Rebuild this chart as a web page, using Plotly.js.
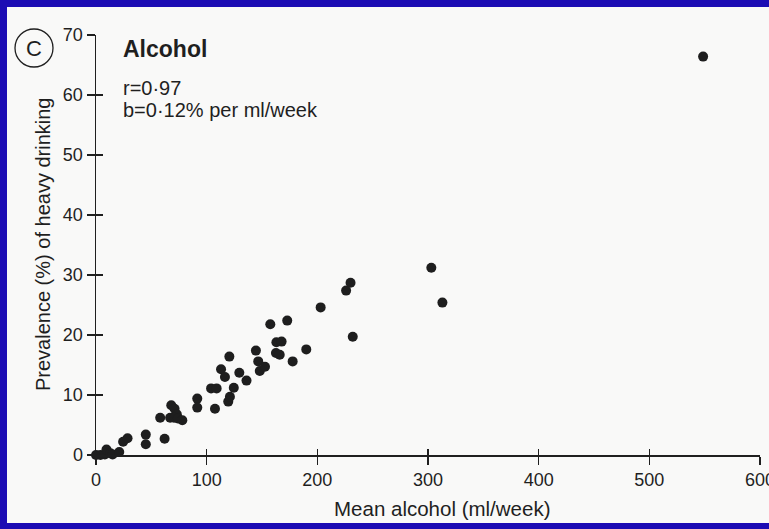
<!DOCTYPE html>
<html>
<head>
<meta charset="utf-8">
<script src="https://cdn.plot.ly/plotly-3.0.1.min.js"></script>
<style>
html,body{margin:0;padding:0;width:769px;height:529px;background:#1c0cb4;overflow:hidden;position:relative;}
#chart{position:absolute;left:7px;top:7px;width:790px;height:516px;}
</style>
</head>
<body>
<div id="chart"></div>
<script>
// Mean alcohol (ml/week) per population
const alcohol = [0, 4, 8, 9.5, 13, 15, 21,
  24.5, 28.5, 45, 45, 62, 58,
  68, 71, 73, 67, 70.5, 74, 78,
  91.5, 91.5, 107.5, 104, 109,
  119.5, 121, 124.5, 113, 116.5, 120.5,
  129.5, 136, 144.5, 146.6, 148, 152.7,
  157.5, 172.8, 163, 167.7, 162.6, 166, 177.7,
  190, 203, 226, 230, 232,
  303, 313, 548.6];
// Prevalence (%) of heavy drinking
const prevalence = [0, 0, 0.1, 0.9, 0.3, 0.1, 0.5,
  2.2, 2.8, 3.4, 1.8, 2.7, 6.2,
  8.3, 7.7, 6.8, 6.2, 6.2, 6.1, 5.8,
  9.4, 7.9, 7.7, 11.1, 11.1,
  8.9, 9.7, 11.2, 14.3, 13.0, 16.4,
  13.7, 12.4, 17.4, 15.6, 14.0, 14.7,
  21.8, 22.4, 18.8, 18.9, 17.0, 16.7, 15.6,
  17.6, 24.6, 27.4, 28.7, 19.7,
  31.2, 25.4, 66.4];
const xTicks = [0, 100, 200, 300, 400, 500, 600];
const yTicks = [0, 10, 20, 30, 40, 50, 60, 70];

const ink = '#1f1f1f';
const font = {family: 'Liberation Sans, Arial, sans-serif', color: ink};

const traces = [
  {x: alcohol, y: prevalence, type: 'scatter', mode: 'markers',
   marker: {color: '#1e1e1e', size: 10}, cliponaxis: false, hoverinfo: 'none'},
  {x: [], y: [], xaxis: 'x2', yaxis: 'y2', type: 'scatter', mode: 'markers', hoverinfo: 'none'}
];

const px = wx => (wx - 96) / 664;
const py = wy => (455 - wy) / 420;

const layout = {
  width: 790, height: 516,
  margin: {l: 89, r: 37, t: 28, b: 68},
  paper_bgcolor: '#f9f9f8', plot_bgcolor: 'rgba(0,0,0,0)',
  showlegend: false,
  font: Object.assign({size: 18}, font),
  xaxis: {range: [0, 600], tickvals: xTicks, ticktext: xTicks.map(String),
    showgrid: false, zeroline: false, showline: true, linecolor: ink, linewidth: 1.5,
    ticks: 'outside', ticklen: 8, tickwidth: 1.3, tickcolor: ink, ticklabeloverflow: 'allow',
    tickfont: Object.assign({size: 18}, font)},
  yaxis: {range: [0, 70], tickvals: yTicks, ticktext: yTicks.map(String),
    showgrid: false, zeroline: false, showline: true, linecolor: ink, linewidth: 1.5,
    ticks: 'outside', ticklen: 8, tickwidth: 1.3, tickcolor: ink,
    tickfont: Object.assign({size: 18}, font)},
  xaxis2: {overlaying: 'x', anchor: 'y', side: 'bottom', range: [0, 600], tickvals: xTicks,
    showticklabels: false, showgrid: false, zeroline: false, showline: false,
    ticks: 'inside', ticklen: 6, tickwidth: 1.3, tickcolor: ink},
  yaxis2: {overlaying: 'y', anchor: 'x', side: 'left', range: [0, 70], tickvals: yTicks,
    showticklabels: false, showgrid: false, zeroline: false, showline: false,
    ticks: 'inside', ticklen: 7, tickwidth: 1.3, tickcolor: ink},
  shapes: [
    {type: 'circle', xref: 'paper', yref: 'paper',
     x0: px(15), x1: px(53), y0: py(67), y1: py(29),
     line: {color: ink, width: 1.3}}
  ],
  annotations: [
    {xref: 'paper', yref: 'paper', x: px(34), y: py(48), text: 'C', showarrow: false,
     xanchor: 'center', yanchor: 'middle', font: Object.assign({size: 22}, font)},
    {xref: 'paper', yref: 'paper', x: px(121), y: py(49), text: '<b>Alcohol</b>', showarrow: false,
     xanchor: 'left', yanchor: 'middle', font: Object.assign({size: 23}, font)},
    {xref: 'paper', yref: 'paper', x: px(121), y: py(88), text: 'r=0·97', showarrow: false,
     xanchor: 'left', yanchor: 'middle', font: Object.assign({size: 20}, font)},
    {xref: 'paper', yref: 'paper', x: px(121), y: py(110), text: 'b=0·12% per ml/week', showarrow: false,
     xanchor: 'left', yanchor: 'middle', font: Object.assign({size: 20}, font)},
    {xref: 'paper', yref: 'paper', x: px(43), y: py(245), text: 'Prevalence (%) of heavy drinking',
     showarrow: false, textangle: -90, xanchor: 'center', yanchor: 'middle',
     font: Object.assign({size: 20}, font)},
    {xref: 'paper', yref: 'paper', x: px(442), y: py(508), text: 'Mean alcohol (ml/week)',
     showarrow: false, xanchor: 'center', yanchor: 'middle',
     font: Object.assign({size: 20.5}, font)}
  ]
};

Plotly.newPlot('chart', traces, layout, {displayModeBar: false, staticPlot: true});
</script>
</body>
</html>
